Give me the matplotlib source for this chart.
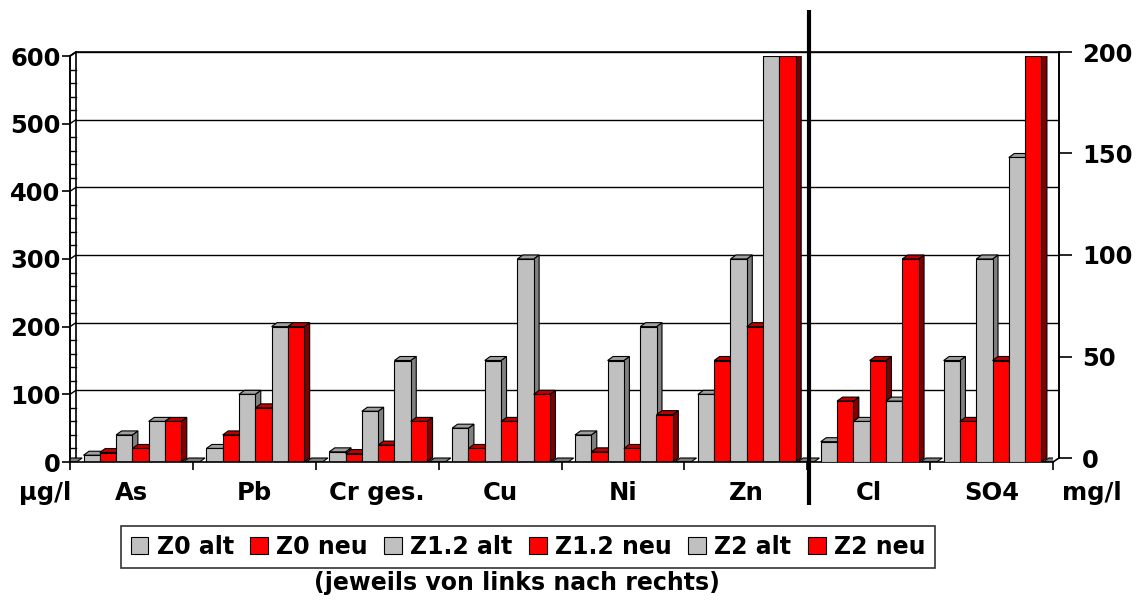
import matplotlib
matplotlib.use("Agg")
import matplotlib.pyplot as plt
from matplotlib.patches import Rectangle, Polygon, Patch
from matplotlib import transforms

# ---- data -------------------------------------------------------------
categories = ["As", "Pb", "Cr ges.", "Cu", "Ni", "Zn", "Cl", "SO4"]
n_left = 6  # first six in µg/l (left axis), last two in mg/l (right axis)

series_names = ["Z0 alt", "Z0 neu", "Z1.2 alt", "Z1.2 neu", "Z2 alt", "Z2 neu"]
z0_alt = [10, 20, 15, 50, 40, 100, 10, 50]
z0_neu = [14, 40, 12.5, 20, 15, 150, 30, 20]
z12_alt = [40, 100, 75, 150, 150, 300, 20, 100]
z12_neu = [20, 80, 25, 60, 20, 200, 50, 50]
z2_alt = [60, 200, 150, 300, 200, 600, 30, 150]
z2_neu = [60, 200, 60, 100, 70, 600, 100, 200]
series = [z0_alt, z0_neu, z12_alt, z12_neu, z2_alt, z2_neu]

left_ticks = [0, 100, 200, 300, 400, 500, 600]
right_ticks = [0, 50, 100, 150, 200]
left_unit = "µg/l"
right_unit = "mg/l"
legend_note = "(jeweils von links nach rechts)"

# ---- style ------------------------------------------------------------
W, H, DPI = 1144, 605, 100
FONT = "DejaVu Sans"
FS = 17.5
face = {"alt": "#C0C0C0", "neu": "#FF0000"}
side = {"alt": "#808080", "neu": "#800000"}
top = {"alt": "#A0A0A0", "neu": "#C00000"}
LW = 0.8

plt.rcParams["font.family"] = [FONT]
plt.rcParams["font.weight"] = "bold"

fig = plt.figure(figsize=(W / DPI, H / DPI), dpi=DPI)
fig.patch.set_facecolor("white")


def frac(x0, y0, x1, y1):
    """pixel box (top-left origin) -> figure fraction rect"""
    return [x0 / W, 1 - y1 / H, (x1 - x0) / W, (y1 - y0) / H]


# depth of the 3D effect in pixels
DX_PX, DY_PX = 5.5, 4.0
WALL_DX_PX = 6.0

# back wall (gridlines, right axis)
ax_back = fig.add_axes(frac(76, 52, 1059, 458))
ax_back.set_xlim(0, len(categories))
ax_back.set_ylim(left_ticks[0], left_ticks[-1])
ax_back.set_xticks([])
ax_back.set_yticks(left_ticks[1:])
ax_back.yaxis.grid(True, color="black", lw=1.0)
ax_back.tick_params(axis="y", length=0, labelleft=False)
for s in ["left", "bottom"]:
    ax_back.spines[s].set_visible(False)
ax_back.spines["top"].set_linewidth(1.2)
ax_back.spines["right"].set_linewidth(1.2)
ax_back.set_zorder(0)

ax_right = ax_back.twinx()
ax_right.set_ylim(right_ticks[0], right_ticks[-1])
ax_right.set_yticks(right_ticks)
ax_right.tick_params(axis="y", direction="out", length=9.4, width=1.2, pad=7,
                     labelsize=FS)
for s in ["left", "bottom", "top"]:
    ax_right.spines[s].set_visible(False)
ax_right.spines["right"].set_linewidth(1.2)
for lab in ax_right.get_yticklabels():
    lab.set_fontweight("bold")

# front plane (bars, left axis)
ax = fig.add_axes(frac(70, 56, 1053, 462))
ax.set_zorder(2)
ax.patch.set_visible(False)
ax.set_xlim(0, len(categories))
ax.set_ylim(left_ticks[0], left_ticks[-1])
ax.set_yticks(left_ticks)
ax.tick_params(axis="y", direction="out", length=5.8, width=1.2, pad=1,
               labelsize=FS)
for lab in ax.get_yticklabels():
    lab.set_fontweight("bold")
ax.set_xticks(range(len(categories) + 1))
ax.tick_params(axis="x", direction="out", length=5.8, width=1.2, labelbottom=False)
for s in ["top", "right"]:
    ax.spines[s].set_visible(False)
ax.spines["left"].set_linewidth(1.2)
ax.spines["bottom"].set_linewidth(1.2)

ax_mg = ax.twinx()
ax_mg.set_ylim(right_ticks[0], right_ticks[-1])
ax_mg.set_axis_off()
ax_mg.set_zorder(3)

fig.canvas.draw()
pos = ax.get_position()
ax_wpx = pos.width * W
ax_hpx = pos.height * H
cat_px = ax_wpx / len(categories)


def depth(a):
    lo, hi = a.get_ylim()
    return DX_PX / cat_px, DY_PX * (hi - lo) / ax_hpx


def bar3d(a, x, w, v, kind, z):
    dx, dy = depth(a)
    a.add_patch(Polygon([(x + w, 0), (x + w + dx, dy), (x + w + dx, v + dy), (x + w, v)],
                        closed=True, fc=side[kind], ec="black", lw=LW, zorder=z))
    a.add_patch(Polygon([(x, v), (x + w, v), (x + w + dx, v + dy), (x + dx, v + dy)],
                        closed=True, fc=top[kind], ec="black", lw=LW, zorder=z))
    a.add_patch(Rectangle((x, 0), w, v, fc=face[kind], ec="black", lw=LW, zorder=z))


def slab(a, x, w, z):
    dx, dy = depth(a)
    a.add_patch(Polygon([(x, 0), (x + w, 0), (x + w + dx, dy), (x + dx, dy)],
                        closed=True, fc="#808080", ec="black", lw=LW, zorder=z))


bar_w = 16.3 / cat_px
first_off = 13.5 / cat_px
slab_shift = -1.5 / cat_px

# left wall with its tick rungs
wdx = WALL_DX_PX / cat_px
wdy = DY_PX * (left_ticks[-1] - left_ticks[0]) / ax_hpx
ax.add_patch(Polygon([(0, 0), (0, left_ticks[-1]), (wdx, left_ticks[-1] + wdy), (wdx, wdy)],
                     closed=True, fc="white", ec="black", lw=1.2, zorder=1, clip_on=False))
for v in range(0, left_ticks[-1], 20):
    if v % 100 == 0:
        ax.plot([0, wdx], [v, v + wdy], color="black", lw=1.0, zorder=1.1, clip_on=False)
    else:
        ax.plot([0, wdx], [v, v], color="black", lw=1.0, zorder=1.1, clip_on=False)
ax.plot([0, wdx], [left_ticks[-1], left_ticks[-1] + wdy], color="black", lw=1.2,
        zorder=1.1, clip_on=False)
ax.plot([len(categories), len(categories) + wdx], [0, wdy], color="black", lw=1.2,
        zorder=1.1, clip_on=False)

# zero-height blocks at the group borders
for b in range(len(categories) + 1):
    slab(ax, b + slab_shift - bar_w / 2, bar_w, 1.5)

# the bars
for i, cat in enumerate(categories):
    a = ax if i < n_left else ax_mg
    for j, (name, vals) in enumerate(zip(series_names, series)):
        kind = "alt" if name.endswith("alt") else "neu"
        x = i + first_off + j * bar_w
        bar3d(a, x, bar_w, vals[i], kind, 2 + j * 0.01)

# separator between µg/l and mg/l groups
sep = transforms.blended_transform_factory(ax.transData, fig.transFigure)
ax.plot([n_left + 2 / cat_px] * 2, [1 - 505 / H, 1 - 10 / H], color="black", lw=3.0,
        transform=sep, clip_on=False, zorder=10, solid_capstyle="butt")

# category labels and units
for i, cat in enumerate(categories):
    ax.text(i + 0.5, 1 - 493 / H, cat, transform=sep, ha="center", va="center",
            fontsize=FS, fontweight="bold")
fig.text(45 / W, 1 - 493 / H, left_unit, ha="center", va="center", fontsize=FS,
         fontweight="bold")
fig.text(1092 / W, 1 - 493 / H, right_unit, ha="center", va="center", fontsize=FS,
         fontweight="bold")

# legend
handles = [Patch(fc=face["alt" if n.endswith("alt") else "neu"], ec="black", lw=LW)
           for n in series_names]
leg = fig.legend(handles, series_names, loc="center",
                 bbox_to_anchor=(528 / W, 1 - 547 / H), ncol=6, frameon=True,
                 fancybox=False, edgecolor="black", fontsize=17,
                 handlelength=0.75, handleheight=0.75, handletextpad=0.35,
                 columnspacing=0.7, borderpad=0.4, borderaxespad=0)
leg.get_frame().set_linewidth(1.2)
for t in leg.get_texts():
    t.set_fontweight("bold")

fig.text(517 / W, 1 - 583 / H, legend_note, ha="center", va="center", fontsize=17,
         fontweight="bold")

fig.savefig("out.png", dpi=DPI, facecolor="white")
